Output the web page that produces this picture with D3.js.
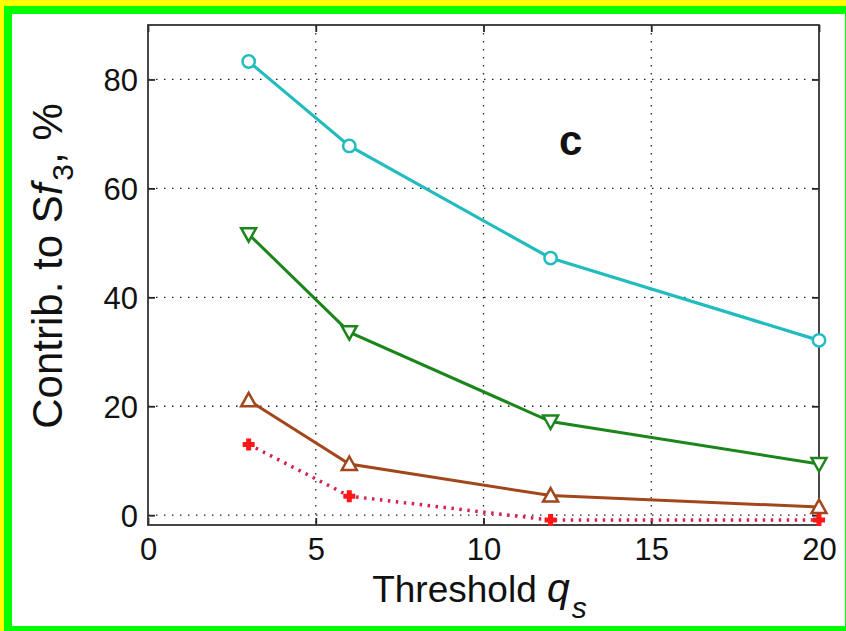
<!DOCTYPE html>
<html>
<head>
<meta charset="utf-8">
<script src="https://cdn.jsdelivr.net/npm/d3@7"></script>
<style>
  html, body { margin: 0; padding: 0; background: #fff; }
  svg { display: block; font-family: "Liberation Sans", Arial, Helvetica, sans-serif; }
</style>
</head>
<body>
<div id="chart"></div>
<script>
// thresholds on the x axis
const thresholds = [3, 6, 12, 20];

// contributions in percent
const cyanVals  = [83.3, 67.8, 47.2, 32.1];
const greenVals = [51.6, 33.6, 17.2, 9.4];
const brownVals = [21.1, 9.4, 3.6, 1.5];
const redVals   = [13.0, 3.5, -0.9, -0.9];

const xTicks = [0, 5, 10, 15, 20];
const yTicks = [0, 20, 40, 60, 80];

const W = 846, H = 631;
const margin = { top: 25, right: 27, bottom: 106, left: 148 };
const width = W - margin.left - margin.right;
const height = H - margin.top - margin.bottom;

const svg = d3.select("#chart").append("svg")
    .attr("width", W)
    .attr("height", H);

// frame round the picture
svg.append("rect").attr("width", W).attr("height", H).attr("fill", "#ffff00");
svg.append("rect").attr("x", 4).attr("y", 6).attr("width", W - 4).attr("height", H - 6).attr("fill", "#00ff00");
svg.append("rect").attr("x", 12).attr("y", 14).attr("width", W - 13).attr("height", H - 19).attr("fill", "#fff");

const g = svg.append("g").attr("transform", `translate(${margin.left},${margin.top})`);

const x = d3.scaleLinear().domain([0, 20]).range([0, width]);
const y = d3.scaleLinear().domain([-1.8, 90]).range([height, 0]);

// dotted grid
g.append("g").selectAll("line")
    .data(xTicks.filter(d => d > 0 && d < 20))
    .enter().append("line")
    .attr("x1", d => x(d)).attr("x2", d => x(d))
    .attr("y1", 0).attr("y2", height)
    .attr("stroke", "#222").attr("stroke-width", 1.3)
    .attr("stroke-dasharray", "1.5,6.5");

g.append("g").selectAll("line")
    .data(yTicks)
    .enter().append("line")
    .attr("x1", 0).attr("x2", width)
    .attr("y1", d => y(d)).attr("y2", d => y(d))
    .attr("stroke", "#222").attr("stroke-width", 1.3)
    .attr("stroke-dasharray", "1.5,6.5");

// axes with inward ticks
const tickLen = 7;
const xAxis = g.append("g")
    .attr("transform", `translate(0,${height})`)
    .call(d3.axisBottom(x).tickValues(xTicks).tickSize(-tickLen).tickPadding(tickLen + 6));
const yAxis = g.append("g")
    .call(d3.axisLeft(y).tickValues(yTicks).tickSize(-tickLen).tickPadding(10));
g.append("g")
    .call(d3.axisTop(x).tickValues(xTicks).tickSize(-tickLen).tickFormat(""));
g.append("g")
    .attr("transform", `translate(${width},0)`)
    .call(d3.axisRight(y).tickValues(yTicks).tickSize(-tickLen).tickFormat(""));

g.selectAll(".domain").remove();
g.selectAll(".tick line").attr("stroke", "#222").attr("stroke-width", 1.8);
xAxis.selectAll("text").attr("font-size", 31).attr("fill", "#111");
yAxis.selectAll("text").attr("font-size", 31).attr("fill", "#111").attr("dy", "0.36em");

g.append("rect")
    .attr("width", width).attr("height", height)
    .attr("fill", "none").attr("stroke", "#333").attr("stroke-width", 1.8);

// series
const line = d3.line().x(d => x(d[0])).y(d => y(d[1]));
const pairs = vals => thresholds.map((t, i) => [t, vals[i]]);

function drawSeries(vals, color, opts) {
    const pts = pairs(vals);
    g.append("path")
        .datum(pts)
        .attr("fill", "none")
        .attr("stroke", opts.lineColor || color)
        .attr("stroke-width", opts.lineWidth || 3)
        .attr("stroke-dasharray", opts.dash || null)
        .attr("d", line);
    g.append("g").selectAll("path").data(pts).enter().append("path")
        .attr("transform", d => `translate(${x(d[0])},${y(d[1])})`)
        .attr("d", opts.marker)
        .attr("fill", opts.fill || "none")
        .attr("stroke", color)
        .attr("stroke-width", opts.markerWidth || 2.5);
}

const circle = d3.symbol().type(d3.symbolCircle).size(120)();
const triUp = "M0,-7.5L7.5,6L-7.5,6Z";
const triDown = "M0,7.5L7.5,-6L-7.5,-6Z";
const plus = "M-6,0L6,0M0,-6L0,6";

drawSeries(cyanVals, "#22bcbf", { marker: circle, fill: "#fff", lineWidth: 3.2 });
drawSeries(greenVals, "#1c861c", { marker: triDown, fill: "#fff" });
drawSeries(brownVals, "#a2461c", { marker: triUp, fill: "#fff" });
drawSeries(redVals, "#ff1616", { marker: plus, lineColor: "#d8204e", dash: "2.5,5.5", lineWidth: 3.5, markerWidth: 5 });

// panel letter
g.append("text")
    .attr("x", x(12.6)).attr("y", y(66.2))
    .attr("text-anchor", "middle")
    .attr("font-size", 42).attr("font-weight", "bold")
    .attr("fill", "#111")
    .text("c");

// axis titles
const xt = svg.append("text")
    .attr("x", margin.left + width / 2 - 4).attr("y", 602)
    .attr("text-anchor", "middle")
    .attr("font-size", 37).attr("fill", "#111");
xt.append("tspan").text("Threshold ");
xt.append("tspan").attr("font-style", "italic").attr("font-size", 41).text("q");
xt.append("tspan").attr("font-size", 30).attr("font-style", "italic").attr("dx", 2).attr("dy", 16).text("s");

const yt = svg.append("text")
    .attr("transform", `translate(62,${margin.top + height / 2 - 9}) rotate(-90)`)
    .attr("text-anchor", "middle")
    .attr("font-size", 42).attr("fill", "#111");
yt.append("tspan").text("Contrib. to S");
yt.append("tspan").attr("font-style", "italic").text("f");
yt.append("tspan").attr("font-size", 30).attr("dy", 11).attr("dx", 3).text("3");
yt.append("tspan").attr("dy", -11).text(", %");
</script>
</body>
</html>
